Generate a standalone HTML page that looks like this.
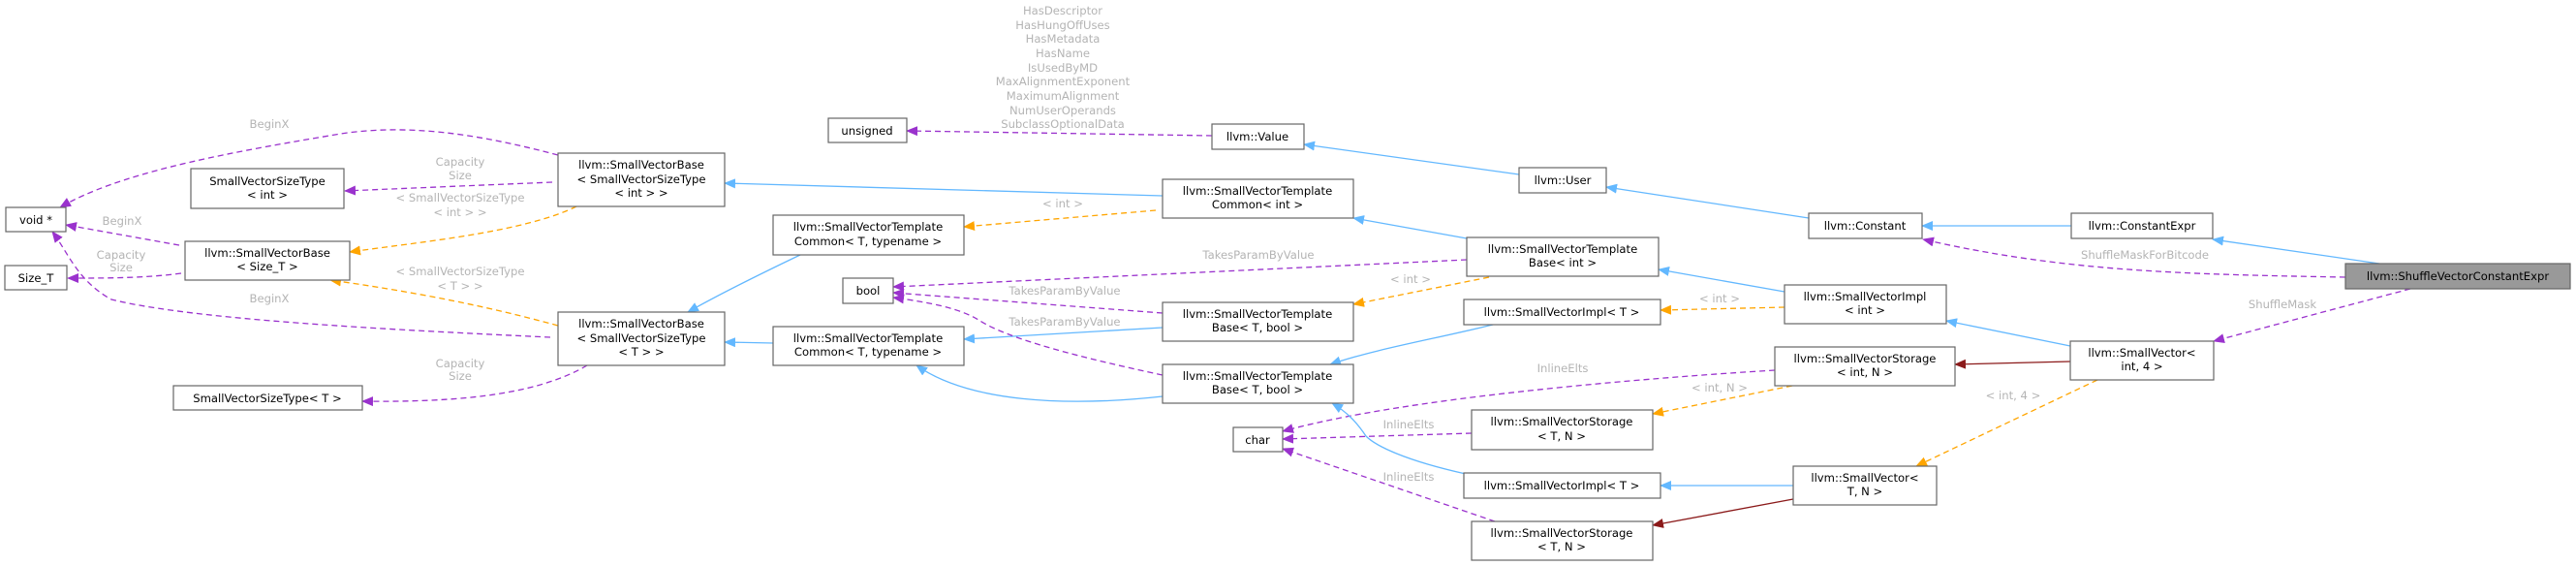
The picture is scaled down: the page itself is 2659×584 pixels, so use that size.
<!DOCTYPE html>
<html><head><meta charset="utf-8"><style>
html,body{margin:0;padding:0;background:#fff;}
svg{display:block;}
text{font-family:"DejaVu Sans","Liberation Sans",sans-serif;}
.n{font-size:11.6px;fill:#000;text-anchor:middle;}
.l{font-size:11.6px;fill:#b4b4b4;text-anchor:middle;}
.b{fill:#fff;stroke:#666;stroke-width:1.2;}
.e{fill:none;stroke-width:1.3;}
.bl{stroke:#63b8ff;}
.pu{stroke:#9a32cd;stroke-dasharray:6,4;}
.or{stroke:#ffa500;stroke-dasharray:6,4;}
.dr{stroke:#8b1a1a;}
</style></head><body>
<svg width="2659" height="584" viewBox="0 0 2659 584" xmlns="http://www.w3.org/2000/svg">
<defs>
<marker id="mb" markerWidth="12" markerHeight="10" refX="11" refY="5" orient="auto" markerUnits="userSpaceOnUse"><path d="M0,0L12,5L0,10z" fill="#63b8ff"/></marker>
<marker id="mp" markerWidth="12" markerHeight="10" refX="11" refY="5" orient="auto" markerUnits="userSpaceOnUse"><path d="M0,0L12,5L0,10z" fill="#9a32cd"/></marker>
<marker id="mo" markerWidth="12" markerHeight="10" refX="11" refY="5" orient="auto" markerUnits="userSpaceOnUse"><path d="M0,0L12,5L0,10z" fill="#ffa500"/></marker>
<marker id="md" markerWidth="12" markerHeight="10" refX="11" refY="5" orient="auto" markerUnits="userSpaceOnUse"><path d="M0,0L12,5L0,10z" fill="#8b1a1a"/></marker>
</defs>

<path class="e pu" marker-end="url(#mp)" d="M576,160 C500,140 420,125 340,140 C220,160 120,180 62,214"/>
<path class="e pu" marker-end="url(#mp)" d="M570,188 L356,197"/>
<path class="e or" marker-end="url(#mo)" d="M595,213 C540,240 430,250 361,260"/>
<path class="e pu" marker-end="url(#mp)" d="M185,253 L68,232"/>
<path class="e pu" marker-end="url(#mp)" d="M187,282 C150,287 110,287 70,287"/>
<path class="e pu" marker-end="url(#mp)" d="M568,348 C400,340 200,330 115,309 C80,290 70,260 54,239"/>
<path class="e or" marker-end="url(#mo)" d="M576,336 C500,315 420,300 341,289"/>
<path class="e pu" marker-end="url(#mp)" d="M606,377 C550,410 460,415 374,414"/>
<path class="e bl" marker-end="url(#mb)" d="M1200,202 L748,189"/>
<path class="e bl" marker-end="url(#mb)" d="M826,263 C780,285 740,305 710,322"/>
<path class="e bl" marker-end="url(#mb)" d="M798,354 L748,353"/>
<path class="e or" marker-end="url(#mo)" d="M1193,217 L995,234"/>
<path class="e pu" marker-end="url(#mp)" d="M1251,140 L936,135"/>
<path class="e bl" marker-end="url(#mb)" d="M1568,180 L1346,149"/>
<path class="e bl" marker-end="url(#mb)" d="M1867,225 L1658,193"/>
<path class="e bl" marker-end="url(#mb)" d="M2138,233 L1984,233"/>
<path class="e bl" marker-end="url(#mb)" d="M2456,272 L2284,247"/>
<path class="e pu" marker-end="url(#mp)" d="M2421,286 C2250,283 2130,280 1985,247"/>
<path class="e pu" marker-end="url(#mp)" d="M2488,298 L2285,352"/>
<path class="e bl" marker-end="url(#mb)" d="M2137,357 L2009,331"/>
<path class="e dr" marker-end="url(#md)" d="M2137,373 L2018,376"/>
<path class="e or" marker-end="url(#mo)" d="M2165,392 L1978,481"/>
<path class="e bl" marker-end="url(#mb)" d="M1842,301 L1712,278"/>
<path class="e or" marker-end="url(#mo)" d="M1842,317 L1714,320"/>
<path class="e bl" marker-end="url(#mb)" d="M1514,246 L1397,225"/>
<path class="e pu" marker-end="url(#mp)" d="M1514,268 L922,296"/>
<path class="e or" marker-end="url(#mo)" d="M1537,286 L1397,314"/>
<path class="e pu" marker-end="url(#mp)" d="M1200,323 L922,302"/>
<path class="e bl" marker-end="url(#mb)" d="M1200,338 L995,350"/>
<path class="e pu" marker-end="url(#mp)" d="M1200,387 C1120,370 1040,350 1010,330 C990,318 960,312 922,307"/>
<path class="e bl" marker-end="url(#mb)" d="M1200,409 C1100,420 1000,415 946,377"/>
<path class="e bl" marker-end="url(#mb)" d="M1541,335 C1480,350 1420,360 1373,376"/>
<path class="e pu" marker-end="url(#mp)" d="M1832,382 C1700,390 1450,410 1324,445"/>
<path class="e or" marker-end="url(#mo)" d="M1850,398 L1706,427"/>
<path class="e pu" marker-end="url(#mp)" d="M1519,447 L1324,453"/>
<path class="e bl" marker-end="url(#mb)" d="M1513,489 C1450,475 1420,460 1410,450 C1400,435 1390,425 1375,416"/>
<path class="e bl" marker-end="url(#mb)" d="M1851,501 L1714,501"/>
<path class="e dr" marker-end="url(#md)" d="M1851,515 L1706,542"/>
<path class="e pu" marker-end="url(#mp)" d="M1543,538 L1324,463"/>

<text class="l" x="278" y="132">BeginX</text>
<text class="l" x="475" y="171">Capacity</text><text class="l" x="475" y="185">Size</text>
<text class="l" x="475" y="208">&lt; SmallVectorSizeType</text><text class="l" x="475" y="223">&lt; int &gt; &gt;</text>
<text class="l" x="126" y="232">BeginX</text>
<text class="l" x="125" y="267">Capacity</text><text class="l" x="125" y="280">Size</text>
<text class="l" x="475" y="284">&lt; SmallVectorSizeType</text><text class="l" x="475" y="299">&lt; T &gt; &gt;</text>
<text class="l" x="278" y="312">BeginX</text>
<text class="l" x="475" y="379">Capacity</text><text class="l" x="475" y="392">Size</text>
<text class="l" x="1097" y="15">HasDescriptor</text>
<text class="l" x="1097" y="30">HasHungOffUses</text>
<text class="l" x="1097" y="44">HasMetadata</text>
<text class="l" x="1097" y="59">HasName</text>
<text class="l" x="1097" y="74">IsUsedByMD</text>
<text class="l" x="1097" y="88">MaxAlignmentExponent</text>
<text class="l" x="1097" y="103">MaximumAlignment</text>
<text class="l" x="1097" y="118">NumUserOperands</text>
<text class="l" x="1097" y="132">SubclassOptionalData</text>
<text class="l" x="1097" y="214">&lt; int &gt;</text>
<text class="l" x="1299" y="267">TakesParamByValue</text>
<text class="l" x="1456" y="292">&lt; int &gt;</text>
<text class="l" x="1099" y="304">TakesParamByValue</text>
<text class="l" x="1099" y="336">TakesParamByValue</text>
<text class="l" x="1613" y="384">InlineElts</text>
<text class="l" x="1454" y="442">InlineElts</text>
<text class="l" x="1454" y="496">InlineElts</text>
<text class="l" x="1775" y="312">&lt; int &gt;</text>
<text class="l" x="1775" y="404">&lt; int, N &gt;</text>
<text class="l" x="2078" y="412">&lt; int, 4 &gt;</text>
<text class="l" x="2214" y="267">ShuffleMaskForBitcode</text>
<text class="l" x="2356" y="318">ShuffleMask</text>

<rect class="b" x="6" y="214" width="62" height="25"/><text class="n" x="37" y="231">void *</text>
<rect class="b" x="5" y="274" width="64" height="25"/><text class="n" x="37" y="291">Size_T</text>
<rect class="b" x="197" y="174" width="158" height="41"/><text class="n" x="276" y="191">SmallVectorSizeType</text><text class="n" x="276" y="205">&lt; int &gt;</text>
<rect class="b" x="191" y="249" width="170" height="40"/><text class="n" x="276" y="265">llvm::SmallVectorBase</text><text class="n" x="276" y="279">&lt; Size_T &gt;</text>
<rect class="b" x="576" y="158" width="172" height="55"/><text class="n" x="662" y="174">llvm::SmallVectorBase</text><text class="n" x="662" y="189">&lt; SmallVectorSizeType</text><text class="n" x="662" y="203">&lt; int &gt; &gt;</text>
<rect class="b" x="576" y="322" width="172" height="55"/><text class="n" x="662" y="338">llvm::SmallVectorBase</text><text class="n" x="662" y="353">&lt; SmallVectorSizeType</text><text class="n" x="662" y="367">&lt; T &gt; &gt;</text>
<rect class="b" x="179" y="398" width="195" height="25"/><text class="n" x="276" y="415">SmallVectorSizeType&lt; T &gt;</text>
<rect class="b" x="855" y="122" width="81" height="25"/><text class="n" x="895" y="139">unsigned</text>
<rect class="b" x="1251" y="128" width="95" height="26"/><text class="n" x="1298" y="145">llvm::Value</text>
<rect class="b" x="1568" y="173" width="90" height="26"/><text class="n" x="1613" y="190">llvm::User</text>
<rect class="b" x="1200" y="185" width="197" height="40"/><text class="n" x="1298" y="201">llvm::SmallVectorTemplate</text><text class="n" x="1298" y="215">Common&lt; int &gt;</text>
<rect class="b" x="798" y="222" width="197" height="41"/><text class="n" x="896" y="238">llvm::SmallVectorTemplate</text><text class="n" x="896" y="253">Common&lt; T, typename &gt;</text>
<rect class="b" x="870" y="287" width="52" height="26"/><text class="n" x="896" y="304">bool</text>
<rect class="b" x="798" y="337" width="197" height="40"/><text class="n" x="896" y="353">llvm::SmallVectorTemplate</text><text class="n" x="896" y="367">Common&lt; T, typename &gt;</text>
<rect class="b" x="1200" y="312" width="197" height="40"/><text class="n" x="1298" y="328">llvm::SmallVectorTemplate</text><text class="n" x="1298" y="342">Base&lt; T, bool &gt;</text>
<rect class="b" x="1200" y="376" width="197" height="40"/><text class="n" x="1298" y="392">llvm::SmallVectorTemplate</text><text class="n" x="1298" y="406">Base&lt; T, bool &gt;</text>
<rect class="b" x="1514" y="245" width="198" height="40"/><text class="n" x="1613" y="261">llvm::SmallVectorTemplate</text><text class="n" x="1613" y="275">Base&lt; int &gt;</text>
<rect class="b" x="1511" y="309" width="203" height="26"/><text class="n" x="1612" y="326">llvm::SmallVectorImpl&lt; T &gt;</text>
<rect class="b" x="1273" y="441" width="51" height="25"/><text class="n" x="1298" y="458">char</text>
<rect class="b" x="1519" y="423" width="187" height="41"/><text class="n" x="1612" y="439">llvm::SmallVectorStorage</text><text class="n" x="1612" y="454">&lt; T, N &gt;</text>
<rect class="b" x="1511" y="488" width="203" height="26"/><text class="n" x="1612" y="505">llvm::SmallVectorImpl&lt; T &gt;</text>
<rect class="b" x="1519" y="538" width="187" height="40"/><text class="n" x="1612" y="554">llvm::SmallVectorStorage</text><text class="n" x="1612" y="568">&lt; T, N &gt;</text>
<rect class="b" x="1867" y="220" width="117" height="26"/><text class="n" x="1925" y="237">llvm::Constant</text>
<rect class="b" x="2138" y="220" width="146" height="26"/><text class="n" x="2211" y="237">llvm::ConstantExpr</text>
<rect x="2421" y="272" width="232" height="26" fill="#999" stroke="#666" stroke-width="1.2"/><text class="n" x="2537" y="289">llvm::ShuffleVectorConstantExpr</text>
<rect class="b" x="1842" y="294" width="167" height="40"/><text class="n" x="1925" y="310">llvm::SmallVectorImpl</text><text class="n" x="1925" y="324">&lt; int &gt;</text>
<rect class="b" x="1832" y="358" width="186" height="40"/><text class="n" x="1925" y="374">llvm::SmallVectorStorage</text><text class="n" x="1925" y="388">&lt; int, N &gt;</text>
<rect class="b" x="2137" y="352" width="148" height="40"/><text class="n" x="2211" y="368">llvm::SmallVector&lt;</text><text class="n" x="2211" y="382">int, 4 &gt;</text>
<rect class="b" x="1851" y="481" width="148" height="40"/><text class="n" x="1925" y="497">llvm::SmallVector&lt;</text><text class="n" x="1925" y="511">T, N &gt;</text>
</svg>
</body></html>
